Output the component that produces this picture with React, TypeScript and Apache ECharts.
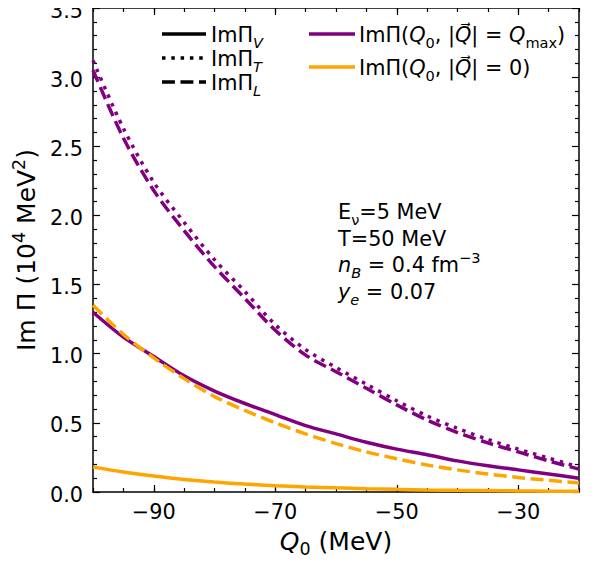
import React, { useEffect, useRef } from 'react';
import * as echarts from 'echarts';

// Energy transfer Q0 (MeV)
const Q0 = [-100, -95, -90, -85, -80, -75, -70, -65, -60, -55, -50, -45, -40, -35, -30, -25, -20];

// Im Π in units of 10^4 MeV^2, at |Q| = Qmax
const imV_Qmax = [1.30, 1.12, 0.98, 0.84, 0.73, 0.64, 0.56, 0.48, 0.42, 0.36, 0.31, 0.27, 0.225, 0.19, 0.16, 0.13, 0.10];
const imT_Qmax = [3.12, 2.63, 2.24, 1.95, 1.68, 1.45, 1.21, 1.03, 0.90, 0.78, 0.66, 0.55, 0.46, 0.38, 0.31, 0.245, 0.18];
const imL_Qmax = [3.05, 2.56, 2.18, 1.89, 1.63, 1.40, 1.17, 0.99, 0.87, 0.75, 0.63, 0.52, 0.43, 0.355, 0.29, 0.225, 0.165];

// Im Π at |Q| = 0
const imV_Q0 = [0.18, 0.145, 0.115, 0.09, 0.072, 0.057, 0.046, 0.037, 0.030, 0.024, 0.019, 0.015, 0.012, 0.010, 0.008, 0.006, 0.005];
const imL_Q0 = [1.35, 1.14, 0.97, 0.82, 0.69, 0.59, 0.50, 0.42, 0.35, 0.29, 0.24, 0.195, 0.16, 0.13, 0.105, 0.085, 0.065];

const xMajorTicks = [-90, -70, -50, -30];
const yTickStep = 0.5;

const PURPLE = '#800080';
const ORANGE = '#ffa500';
const FONT = 'DejaVu Sans';

const LW = 3.5;
const DOTTED = [3.5, 5.8];
const DASHED = [12.9, 5.6];

const pairs = (ys: number[]) => Q0.map((q, i) => [q, ys[i]]);

const richFor = (size: number, lh: number) => ({
  n: { fontFamily: FONT, fontSize: size, lineHeight: lh, color: '#000' },
  it: { fontFamily: FONT, fontStyle: 'italic', fontSize: size, lineHeight: lh, color: '#000' },
  sub: { fontFamily: FONT, fontSize: size * 0.7, lineHeight: lh * 0.62, verticalAlign: 'bottom', color: '#000' },
  subi: { fontFamily: FONT, fontStyle: 'italic', fontSize: size * 0.7, lineHeight: lh * 0.62, verticalAlign: 'bottom', color: '#000' },
  sup: { fontFamily: FONT, fontSize: size * 0.7, lineHeight: lh * 0.5, verticalAlign: 'top', color: '#000' },
});

const LEG = 20.8;
const legRich = richFor(LEG, 30);

const txt = (x: number, y: number, text: string, rich: any) => ({
  type: 'text',
  x,
  y,
  z: 100,
  style: { text, rich, fontFamily: FONT, fontSize: LEG, fill: '#000', verticalAlign: 'middle', align: 'left' },
});

const legLine = (x1: number, x2: number, y: number, color: string, dash: any) => ({
  type: 'line',
  z: 100,
  shape: { x1, y1: y, x2, y2: y },
  style: { stroke: color, lineWidth: LW, lineDash: dash, lineCap: 'butt' },
});

const lineSeries = (name: string, ys: number[], color: string, dash: any) => ({
  name,
  type: 'line',
  data: pairs(ys),
  xAxisIndex: 0,
  yAxisIndex: 0,
  showSymbol: false,
  symbol: 'none',
  smooth: 0.3,
  clip: true,
  lineStyle: { color, width: LW, type: dash, cap: 'butt' },
});

const tickLabel = { fontFamily: FONT, fontSize: 20.8, color: '#000' };
const axisLine = { show: true, lineStyle: { color: '#000', width: 1.5 } };

export default function App() {
  const ref = useRef<HTMLDivElement>(null);

  useEffect(() => {
    if (!ref.current) return;
    const chart = echarts.init(ref.current, null, { renderer: 'svg' });

    const xBase = { type: 'value', gridIndex: 0, min: -100, max: -20, splitLine: { show: false } };
    const yBase = { type: 'value', gridIndex: 0, min: 0, max: 3.5, interval: yTickStep, splitLine: { show: false } };

    chart.setOption({
      animation: false,
      backgroundColor: '#fff',
      grid: { left: 93, top: 8, width: 486, height: 486 },
      xAxis: [
        {
          ...xBase,
          position: 'bottom',
          interval: 5,
          axisLine,
          axisTick: { inside: true, length: 4, lineStyle: { color: '#000', width: 1.2 } },
          axisLabel: {
            ...tickLabel,
            margin: 9,
            formatter: (v: number) => (xMajorTicks.includes(v) ? '\u2212' + Math.abs(v) : ''),
          },
          name: '{it|Q}{sub|0}{n| (MeV)}',
          nameLocation: 'middle',
          nameGap: 32,
          nameTextStyle: { rich: richFor(25, 34) },
        },
        {
          ...xBase,
          position: 'bottom',
          axisLine: { show: false },
          axisTick: { inside: true, length: 7, customValues: xMajorTicks, lineStyle: { color: '#000', width: 1.2 } },
          axisLabel: { show: false },
        },
        {
          ...xBase,
          position: 'top',
          interval: 5,
          axisLine,
          axisTick: { inside: true, length: 4, lineStyle: { color: '#000', width: 1.2 } },
          axisLabel: { show: false },
        },
        {
          ...xBase,
          position: 'top',
          axisLine: { show: false },
          axisTick: { inside: true, length: 7, customValues: xMajorTicks, lineStyle: { color: '#000', width: 1.2 } },
          axisLabel: { show: false },
        },
      ],
      yAxis: [
        {
          ...yBase,
          position: 'left',
          axisLine,
          axisTick: { inside: true, length: 7, lineStyle: { color: '#000', width: 1.2 } },
          minorTick: { show: true, splitNumber: 5, length: 4, lineStyle: { color: '#000', width: 1.2 } },
          axisLabel: {
            ...tickLabel,
            margin: 10,
            verticalAlign: 'top',
            lineHeight: 5,
            formatter: (v: number) => v.toFixed(1),
          },
          name: '{n|Im Π (10}{sup|4}{n| MeV}{sup|2}{n|)}',
          nameLocation: 'middle',
          nameGap: 48,
          nameRotate: 90,
          nameTextStyle: { rich: richFor(25, 34) },
        },
        {
          ...yBase,
          position: 'right',
          axisLine,
          axisTick: { inside: true, length: 7, lineStyle: { color: '#000', width: 1.2 } },
          minorTick: { show: true, splitNumber: 5, length: 4, lineStyle: { color: '#000', width: 1.2 } },
          axisLabel: { show: false },
        },
      ],
      series: [
        lineSeries('ImΠV Qmax', imV_Qmax, PURPLE, 'solid'),
        lineSeries('ImΠT Qmax', imT_Qmax, PURPLE, DOTTED),
        lineSeries('ImΠL Qmax', imL_Qmax, PURPLE, DASHED),
        lineSeries('ImΠV Q0', imV_Q0, ORANGE, 'solid'),
        lineSeries('ImΠL Q0', imL_Q0, ORANGE, DASHED),
      ],
      graphic: [
        // line-style key
        legLine(162, 206, 34, '#000', null),
        txt(211, 35, '{n|ImΠ}{subi|V}', legRich),
        legLine(162, 206, 58, '#000', DOTTED),
        txt(211, 59, '{n|ImΠ}{subi|T}', legRich),
        legLine(162, 206, 82, '#000', DASHED),
        txt(211, 83, '{n|ImΠ}{subi|L}', legRich),
        // colour key
        legLine(309, 355, 34, PURPLE, null),
        txt(359, 35, '{n|ImΠ(}{it|Q}{sub|0}{n|, |}{it|Q\u20D7}{n|| = }{it|Q}{sub|max}{n|)}', legRich),
        legLine(309, 355, 67, ORANGE, null),
        txt(359, 68, '{n|ImΠ(}{it|Q}{sub|0}{n|, |}{it|Q\u20D7}{n|| = 0)}', legRich),
        // physical parameters
        txt(338, 212, '{n|E}{sub|ν}{n|=5 MeV}', legRich),
        txt(338, 239, '{n|T=50 MeV}', legRich),
        txt(338, 265, '{it|n}{subi|B}{n| = 0.4 fm}{sup|−3}', legRich),
        txt(338, 292, '{it|y}{subi|e}{n| = 0.07}', legRich),
      ],
    });

    return () => chart.dispose();
  }, []);

  return <div ref={ref} style={{ width: 595, height: 563, margin: -8 }} />;
}
